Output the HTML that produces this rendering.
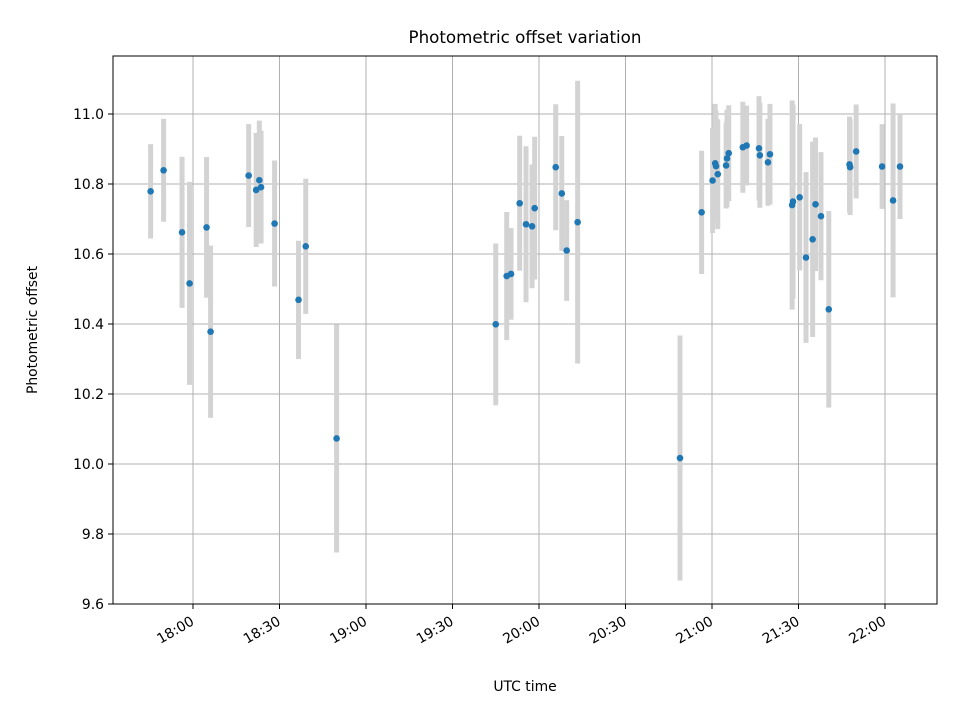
<!DOCTYPE html>
<html><head><meta charset="utf-8"><style>
html,body{margin:0;padding:0;background:#fff;}
svg text{font-family:"DejaVu Sans","Liberation Sans",sans-serif;fill:#000;}
</style></head><body>
<svg id="chart" width="960" height="720" xmlns="http://www.w3.org/2000/svg">
<rect width="960" height="720" fill="#fff"/>
<g id="grid"></g>
<g id="bars"></g>
<g id="pts"></g>
<rect x="113" y="56" width="824" height="548" fill="none" stroke="#000" stroke-width="1"/>
<g id="axes"></g>
<text x="525" y="43" font-size="16.7" text-anchor="middle">Photometric offset variation</text>
<text x="525" y="691" font-size="13.9" text-anchor="middle">UTC time</text>
<text transform="translate(37,330) rotate(-90)" font-size="13.9" text-anchor="middle">Photometric offset</text>
</svg>
<script>
// minutes after 18:00 UTC
const times=[-14.7,-10.2,-3.8,-1.2,4.7,6.1,19.3,21.9,23.0,23.6,28.3,36.6,39.1,49.8,105.0,108.8,110.3,113.3,115.5,117.6,118.5,125.8,127.9,129.6,133.4,168.9,176.4,180.2,181.1,181.4,182.0,184.9,185.2,185.8,190.7,192.0,196.3,196.6,199.4,200.1,207.8,208.1,210.4,212.6,214.9,215.9,217.8,220.5,227.7,227.9,230.0,239.0,242.8,245.2];
const offsets=[10.779,10.839,10.662,10.516,10.676,10.378,10.824,10.783,10.811,10.791,10.687,10.469,10.622,10.073,10.399,10.537,10.543,10.745,10.685,10.679,10.731,10.848,10.773,10.610,10.691,10.017,10.719,10.810,10.859,10.851,10.828,10.853,10.873,10.888,10.905,10.910,10.902,10.882,10.862,10.885,10.740,10.750,10.762,10.590,10.642,10.742,10.708,10.442,10.856,10.848,10.893,10.850,10.753,10.850];
const errors=[0.135,0.147,0.216,0.29,0.201,0.246,0.147,0.163,0.17,0.161,0.18,0.169,0.193,0.326,0.231,0.183,0.131,0.193,0.223,0.177,0.204,0.18,0.164,0.144,0.404,0.35,0.176,0.15,0.17,0.159,0.157,0.123,0.139,0.137,0.13,0.114,0.149,0.15,0.124,0.144,0.299,0.277,0.209,0.244,0.279,0.191,0.183,0.281,0.137,0.137,0.134,0.121,0.277,0.15];
const xTickMin=[0,30,60,90,120,150,180,210,240];
const xTickLabels=["18:00","18:30","19:00","19:30","20:00","20:30","21:00","21:30","22:00"];
const yTicks=[9.6,9.8,10.0,10.2,10.4,10.6,10.8,11.0];
const yTickLabels=["9.6","9.8","10.0","10.2","10.4","10.6","10.8","11.0"];

const X=m=>193+m*(692/240);
const Y=v=>604-(v-9.6)*350;
const NS="http://www.w3.org/2000/svg";
function mk(tag,attrs,parent){const e=document.createElementNS(NS,tag);for(const k in attrs)e.setAttribute(k,attrs[k]);parent.appendChild(e);return e;}
const grid=document.getElementById('grid'),axes=document.getElementById('axes'),bars=document.getElementById('bars'),pts=document.getElementById('pts');
xTickMin.forEach((m,i)=>{
  const x=X(m);
  const g=mk('line',{x1:x,x2:x,y1:56,y2:604,stroke:'#b0b0b0','stroke-width':1},grid);
  
  
  const t=mk('line',{x1:x,x2:x,y1:604,y2:609,stroke:'#000','stroke-width':1},axes);
  
  
  const l=mk('text',{transform:`translate(${x+2},${624}) rotate(-30)`,'font-size':'13.9','text-anchor':'end'},axes);
  l.textContent=xTickLabels[i];
  
  
});
yTicks.forEach((v,i)=>{
  const y=Y(v);
  const g=mk('line',{x1:113,x2:937,y1:y,y2:y,stroke:'#b0b0b0','stroke-width':1},grid);
  
  
  const t=mk('line',{x1:108,x2:113,y1:y,y2:y,stroke:'#000','stroke-width':1},axes);
  
  
  const l=mk('text',{x:104,y:y+5,'font-size':'13.9','text-anchor':'end'},axes);
  l.textContent=yTickLabels[i];
  
  
});
times.forEach((m,i)=>{
  const x=X(m);
  const b=mk('line',{x1:x,x2:x,y1:Y(offsets[i]+errors[i]),y2:Y(offsets[i]-errors[i]),stroke:'#d3d3d3','stroke-width':5},bars);
  
  
  const c=mk('circle',{cx:x,cy:Y(offsets[i]),r:3.3,fill:'#1f77b4'},pts);
  
  
});
</script>
</body></html>
